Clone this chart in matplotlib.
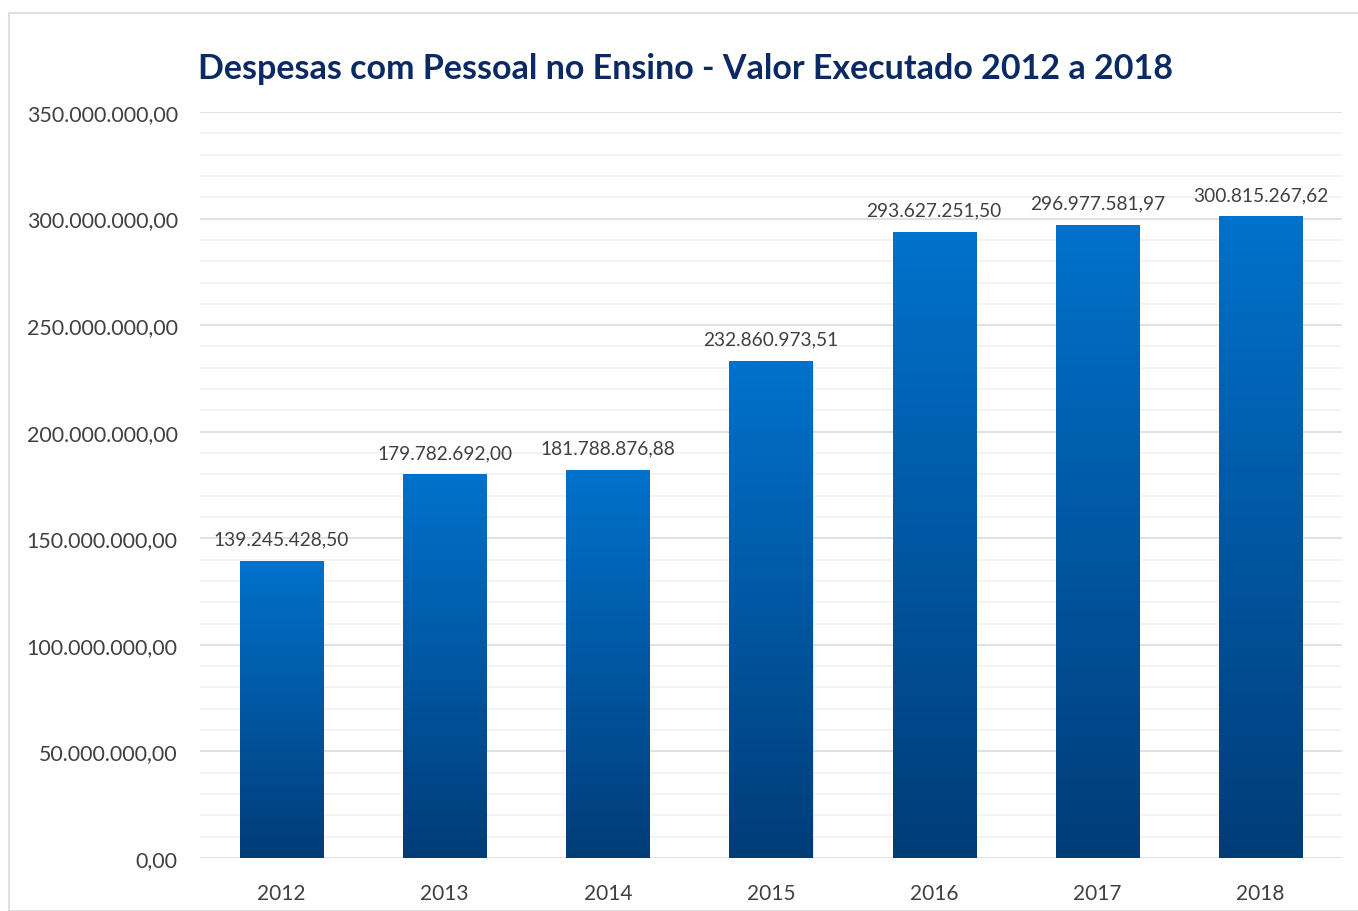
import matplotlib.pyplot as plt
import numpy as np
from matplotlib.colors import LinearSegmentedColormap
from matplotlib.patches import Rectangle
from matplotlib.ticker import FuncFormatter, MultipleLocator

plt.rcParams['font.family'] = ['Lato', 'DejaVu Sans']

anos = ['2012', '2013', '2014', '2015', '2016', '2017', '2018']
valores = [139245428.50, 179782692.00, 181788876.88, 232860973.51,
           293627251.50, 296977581.97, 300815267.62]
rotulos = ['139.245.428,50', '179.782.692,00', '181.788.876,88', '232.860.973,51',
           '293.627.251,50', '296.977.581,97', '300.815.267,62']


def br(v, pos=None):
    s = f"{v:,.2f}"
    return s.replace(',', 'X').replace('.', ',').replace('X', '.')


fig = plt.figure(figsize=(13.58, 9.12), dpi=100)
ax = fig.add_axes([200 / 1358, 1 - 859 / 912, 1142 / 1358, 746 / 912])

# moldura do grafico
fig.patches.append(Rectangle((9 / 1358, 0), 1.0, 1 - 14 / 912, transform=fig.transFigure,
                             fill=False, edgecolor='#DCDFE4', linewidth=1.5))

ax.set_xlim(-0.5, 6.5)
ax.set_ylim(0, 350000000)
ax.yaxis.set_major_locator(MultipleLocator(50000000))
ax.yaxis.set_minor_locator(MultipleLocator(10000000))
ax.yaxis.set_major_formatter(FuncFormatter(br))
ax.grid(which='major', axis='y', color='#DDE1E8', linewidth=1.4)
ax.grid(which='minor', axis='y', color='#F1F1F1', linewidth=1.2)
ax.set_axisbelow(True)
for s in ax.spines.values():
    s.set_visible(False)
ax.tick_params(which='both', length=0)
ax.tick_params(axis='y', labelsize=15.4, labelcolor='#404040', pad=16)
ax.tick_params(axis='x', labelsize=15, labelcolor='#404040', pad=18)

cmap = LinearSegmentedColormap.from_list('azul', ['#003C78', '#0072CC'])
grad = np.linspace(0, 1, 256).reshape(-1, 1)
w = 0.51
x = np.arange(len(anos))
for i, v in enumerate(valores):
    # sombra
    ax.bar(x[i] + 0.006, v, width=w, bottom=-1200000, color='#BFBFBF', alpha=0.35, zorder=2)
    ax.imshow(grad, cmap=cmap, origin='lower', aspect='auto',
              extent=(x[i] - w / 2, x[i] + w / 2, 0, v), zorder=3)
    ax.annotate(rotulos[i], (x[i], v), xytext=(0, 10), textcoords='offset points',
                ha='center', va='bottom', fontsize=13.8, color='#404040')

ax.set_xlim(-0.5, 6.5)
ax.set_ylim(0, 350000000)
ax.set_xticks(x)
ax.set_xticklabels(anos)

fig.text(686 / 1358, 1 - 69 / 912, 'Despesas com Pessoal no Ensino - Valor Executado 2012 a 2018',
         ha='center', va='center', fontsize=24.5, fontweight='bold', color='#0B2A63')

fig.savefig('out.png', dpi=100)
